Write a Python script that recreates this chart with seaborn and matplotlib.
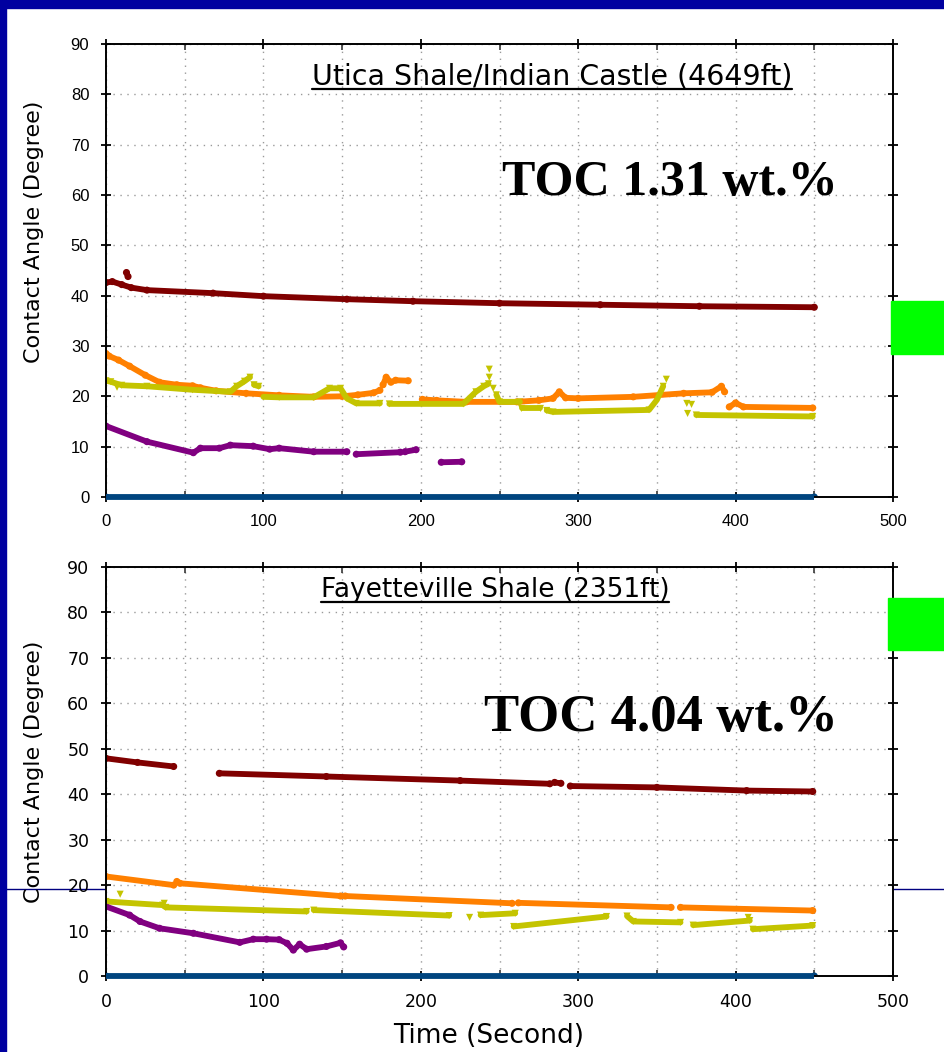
import matplotlib
matplotlib.use("Agg")
import matplotlib.pyplot as plt
from matplotlib.lines import Line2D
from matplotlib.patches import Rectangle
import pandas as pd
import seaborn as sns

# ---------------- Utica Shale / Indian Castle (4649 ft) ----------------
# None separates recorded segments of one measurement run
utica_red_t = [0, 4, 10, 16, 26, 68, 100, 153, 195, 250, 314, 377, 450, None, 13, 14]
utica_red_y = [42.6, 42.8, 42.2, 41.6, 41.1, 40.5, 39.9, 39.3, 38.9, 38.5, 38.2, 37.9, 37.7, None, 44.6, 43.8]

utica_orange_t = [0, 2, 8, 15, 25, 34, 45, 55, 60, 70, 89, 110, 132, 150, 160, 170, 174, None,
                  176, 178, 181, 184, 192, None,
                  201, 210, 229, 261, 275, 284, 288, 292, 300, 335, 367, 385, 391, 393, None,
                  396, 400, 405, 449]
utica_orange_y = [28.5, 28.0, 27.2, 26.0, 24.2, 22.8, 22.3, 22.1, 21.7, 21.1, 20.6, 20.2, 19.9, 20.0, 20.3, 20.7, 21.2, None,
                  22.3, 23.8, 22.8, 23.2, 23.1, None,
                  19.4, 19.2, 18.9, 18.9, 19.2, 19.6, 20.9, 19.7, 19.6, 19.9, 20.6, 20.8, 22.0, 20.9, None,
                  17.9, 18.7, 17.9, 17.7]

utica_olive_t = [0, 3, 10, 26, 55, 79, 83, 88, 91.5, None, 7, None, 94, 97, None,
                 100, 110, 132, 142, 149, 153, 159, 174, None,
                 180, 227, 235, 240, 243, None, 243.5, None, 243.5, None, 246, None,
                 248, 250, 263, None, 264, 276, None,
                 280, 284, 345, 350, 354, None, 356, None, 369, None, 372, None, 369.5, None,
                 375, 449]
utica_olive_y = [23.1, 22.9, 22.2, 22.0, 21.3, 20.9, 22.0, 23.0, 23.8, None, 21.8, None, 22.3, 22.0, None,
                 19.9, 19.8, 19.8, 21.6, 21.6, 19.6, 18.6, 18.6, None,
                 18.5, 18.5, 20.9, 22.0, 22.5, None, 25.4, None, 23.8, None, 21.6, None,
                 20.3, 18.9, 18.9, None, 17.6, 17.6, None,
                 17.2, 16.9, 17.3, 19.3, 22.0, None, 23.4, None, 18.6, None, 18.4, None, 16.6, None,
                 16.3, 16.0]

utica_purple_t = [0, 26, 55.5, 60, 72, 79, 93.5, 104, 110, 132, 153, None, 159, 187, None, 190, 197, None, 213, 226]
utica_purple_y = [14.1, 11.0, 8.8, 9.7, 9.7, 10.3, 10.1, 9.5, 9.7, 9.0, 9.0, None, 8.5, 8.9, None, 9.0, 9.4, None, 6.9, 7.0]

utica_blue_t = [0, 450]
utica_blue_y = [0, 0]

# ---------------- Fayetteville Shale (2351 ft) ----------------
fay_red_t = [0, 20, 43, None, 72, 140, 225, 282, None, 285, 289, None, 295, 350, 407, 449]
fay_red_y = [47.9, 47.0, 46.1, None, 44.6, 43.9, 43.0, 42.3, None, 42.6, 42.4, None, 41.8, 41.5, 40.8, 40.6]

fay_orange_t = [0, 43, None, 45, 47, 149, None, 152, 258, None, 262, 359, None, 365, 449]
fay_orange_y = [21.9, 20.0, None, 20.8, 20.4, 17.6, None, 17.6, 16.0, None, 16.1, 15.1, None, 15.1, 14.4]

fay_olive_t = [0, 36, 38, 127.5, None, 9, None, 37, None, 132, 218, None, 231, None, 238, 260, None,
               259, 318, None, 331, 335, 365, None, 373, 409, None, 408, None, 411, 449]
fay_olive_y = [16.4, 15.6, 15.1, 14.2, None, 18.0, None, 16.0, None, 14.5, 13.3, None, 12.9, None, 13.4, 13.8, None,
               10.9, 13.1, None, 13.2, 12.0, 11.8, None, 11.2, 12.2, None, 12.9, None, 10.3, 11.1]

fay_purple_t = [0, 15, 21.6, 34, 55.5, 85, 93.6, 102, 110, 115, 119, 123, 127.5, 140, 149, 151]
fay_purple_y = [15.3, 13.4, 12.0, 10.5, 9.4, 7.4, 8.1, 8.1, 8.0, 7.2, 5.7, 7.0, 5.9, 6.5, 7.3, 6.4]

fay_blue_t = [0, 450]
fay_blue_y = [0, 0]

panel_titles = ["Utica Shale/Indian Castle (4649ft)", "Fayetteville Shale (2351ft)"]
toc_labels = ["TOC 1.31 wt.%", "TOC 4.04 wt.%"]

series_order = ["dark red", "orange", "olive", "purple", "blue"]
palette = {"dark red": "#800000", "orange": "#ff8000", "olive": "#c4c400",
           "purple": "#800080", "blue": "#00457f"}
marker_map = {"dark red": "o", "orange": "o", "olive": "v", "purple": "o", "blue": "o"}


def to_frame(series, ts, ys, seg_start):
    rows, seg = [], seg_start
    for t, y in zip(ts, ys):
        if t is None:
            seg += 1
            continue
        rows.append({"series": series, "seg": seg, "t": t, "y": y})
    return pd.DataFrame(rows), seg + 1


def build(panel):
    frames, seg = [], 0
    for name, ts, ys in panel:
        df, seg = to_frame(name, ts, ys, seg)
        frames.append(df)
    return pd.concat(frames, ignore_index=True)


utica = build([("dark red", utica_red_t, utica_red_y),
               ("orange", utica_orange_t, utica_orange_y),
               ("olive", utica_olive_t, utica_olive_y),
               ("purple", utica_purple_t, utica_purple_y),
               ("blue", utica_blue_t, utica_blue_y)])
fay = build([("dark red", fay_red_t, fay_red_y),
             ("orange", fay_orange_t, fay_orange_y),
             ("olive", fay_olive_t, fay_olive_y),
             ("purple", fay_purple_t, fay_purple_y),
             ("blue", fay_blue_t, fay_blue_y)])

sns.set_theme(style="white")
plt.rcParams["font.family"] = ["Liberation Sans", "DejaVu Sans"]

W, H = 944, 1052
fig = plt.figure(figsize=(W / 100, H / 100), dpi=100)
fig.patch.set_facecolor("white")


def fx(px):
    return px / W


def fy(py):
    return 1 - py / H


ax1 = fig.add_axes([fx(106), fy(497), (893 - 106) / W, (497 - 44) / H])
ax2 = fig.add_axes([fx(106), fy(976), (893 - 106) / W, (976 - 567) / H])

for ax, df in ((ax1, utica), (ax2, fay)):
    sns.lineplot(data=df, x="t", y="y", hue="series", hue_order=series_order,
                 palette=palette, units="seg", estimator=None, sort=False,
                 linewidth=4.2, legend=False, ax=ax,
                 solid_capstyle="round", solid_joinstyle="round")
    sns.scatterplot(data=df, x="t", y="y", hue="series", hue_order=series_order,
                    style="series", style_order=series_order, markers=marker_map,
                    palette=palette, s=26, linewidth=0, legend=False, ax=ax)
    # the baseline series sits on the x axis: draw it unclipped, above the spine
    for ln in ax.lines:
        if ln.get_color() in ("#00457f",):
            ln.set_clip_on(False)
            ln.set_zorder(3)
            ln.set_solid_capstyle("butt")
    ax.set_xlim(0, 500)
    ax.set_ylim(0, 90)
    ax.set_xticks(range(0, 501, 100))
    ax.set_xticks(range(50, 500, 100), minor=True)
    ax.set_yticks(range(0, 91, 10))
    ax.grid(True, which="both", axis="x", ls=(0, (1, 4)), color="#9a9a9a", lw=1)
    ax.grid(True, which="major", axis="y", ls=(0, (1, 4)), color="#9a9a9a", lw=1)
    ax.set_axisbelow(True)
    for s in ax.spines.values():
        s.set_visible(True)
        s.set_color("black")
        s.set_linewidth(1.4)
    ax.tick_params(which="major", direction="inout", length=7, width=1.3,
                   top=True, right=True, bottom=True, left=True, colors="black")
    ax.tick_params(which="minor", direction="in", length=4, width=1.1,
                   top=True, bottom=True)
    ax.tick_params(axis="y", pad=8.5)
    ax.tick_params(axis="x", pad=9)
    ax.set_xlabel("")

ax1.tick_params(labelsize=12)
ax2.tick_params(labelsize=12.5)
for lab in ax2.get_xticklabels() + ax2.get_yticklabels():
    lab.set_family("DejaVu Sans")

ax1.set_ylabel("Contact Angle (Degree)", fontsize=16, family="DejaVu Sans", color="black")
ax2.set_ylabel("Contact Angle (Degree)", fontsize=16, family="DejaVu Sans", color="black")
ax1.yaxis.set_label_coords(-0.079, 0.585)
ax2.yaxis.set_label_coords(-0.079, 0.50)
ax2.set_xlabel("Time (Second)", fontsize=19, family="DejaVu Sans", color="black")
ax2.xaxis.set_label_coords(0.4867, -0.115)

# panel titles (underlined) and TOC annotations
t1 = fig.text(fx(552), fy(76), panel_titles[0], ha="center", va="center",
              fontsize=20.5, family="DejaVu Sans", color="black")
t2 = fig.text(fx(495), fy(590), panel_titles[1], ha="center", va="center",
              fontsize=19, family="DejaVu Sans", color="black")
fig.text(fx(838), fy(195), toc_labels[0], ha="right", va="baseline",
         fontsize=36, fontweight="bold", family="Liberation Serif", color="black")
fig.text(fx(838), fy(731), toc_labels[1], ha="right", va="baseline",
         fontsize=38, fontweight="bold", family="Liberation Serif", color="black")

fig.canvas.draw()
renderer = fig.canvas.get_renderer()
for txt, uy in ((t1, 89), (t2, 602)):
    bb = txt.get_window_extent(renderer)
    fig.add_artist(Line2D([bb.x0 / W, bb.x1 / W], [fy(uy), fy(uy)],
                          transform=fig.transFigure, color="black", lw=1.6))

# slide decorations: navy frame edges, guide line and green markers
fig.add_artist(Line2D([0, 1], [fy(889), fy(889)], transform=fig.transFigure,
                      color="#000080", lw=1.0, zorder=-1))
fig.add_artist(Rectangle((0, fy(8)), 1, 8 / H, transform=fig.transFigure,
                         color="#0000a0", zorder=10))
fig.add_artist(Rectangle((0, 0), 6 / W, 1, transform=fig.transFigure,
                         color="#0000a0", zorder=10))
fig.add_artist(Rectangle((fx(891), fy(354)), (W - 891) / W, (354 - 301) / H,
                         transform=fig.transFigure, color="#00ff00", zorder=10))
fig.add_artist(Rectangle((fx(888), fy(650)), (W - 888) / W, (650 - 598) / H,
                         transform=fig.transFigure, color="#00ff00", zorder=10))

fig.savefig("out.png", dpi=100, facecolor="white")
